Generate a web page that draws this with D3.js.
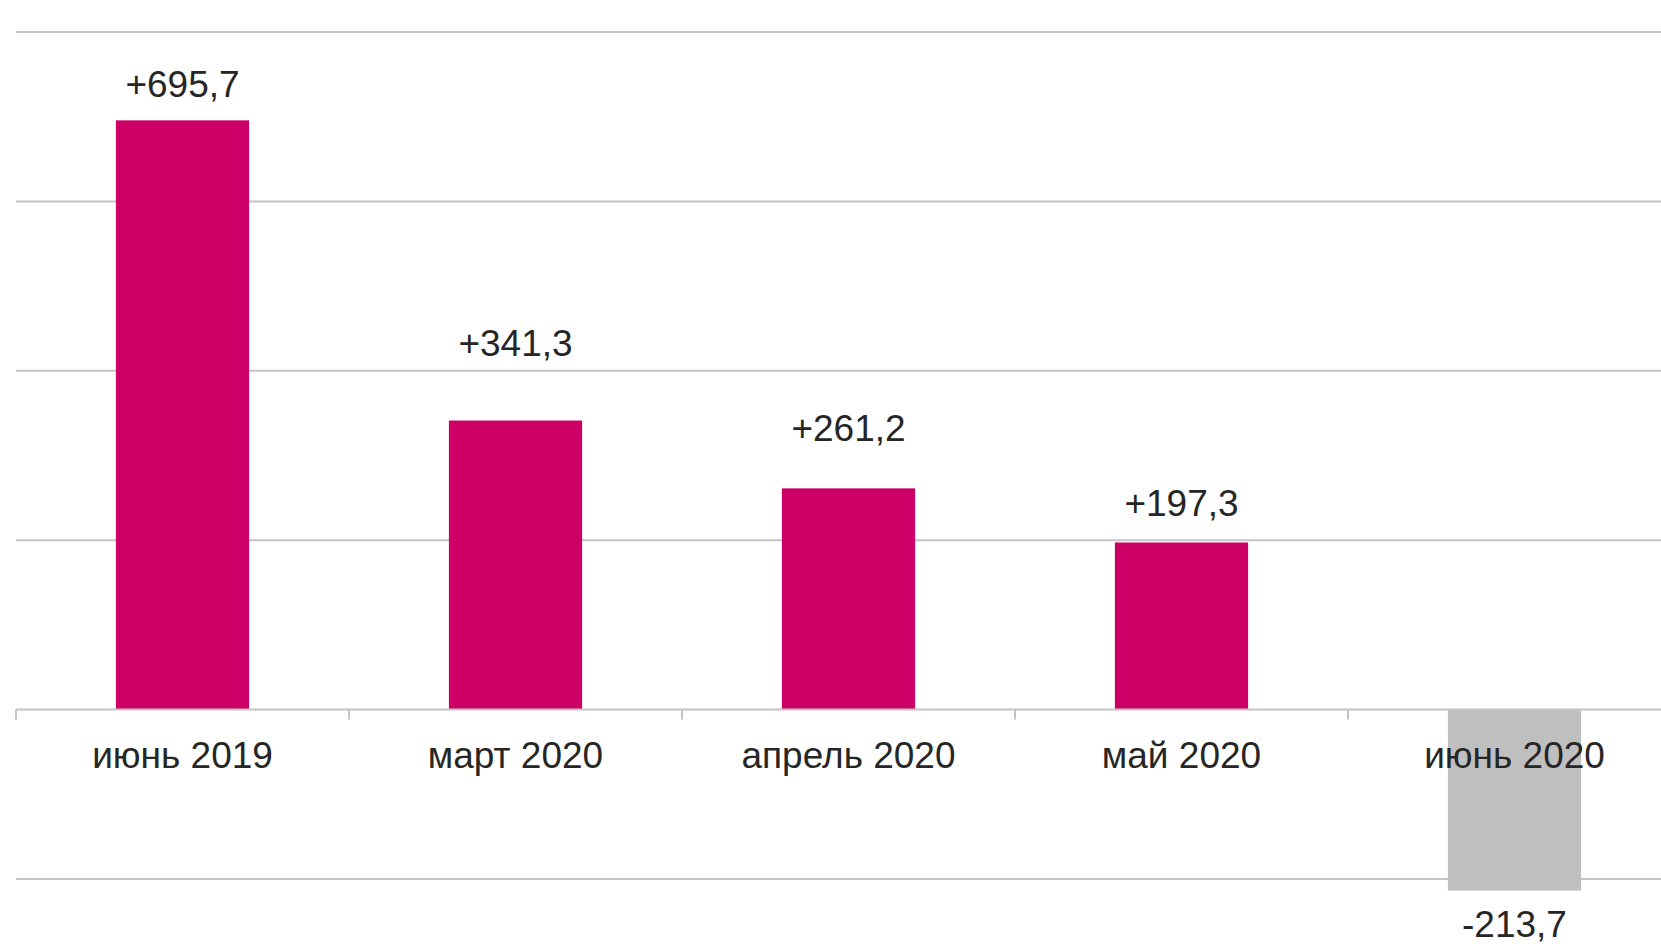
<!DOCTYPE html>
<html><head><meta charset="utf-8">
<script src="https://cdn.jsdelivr.net/npm/d3@7"></script>
<style>html,body{margin:0;padding:0;background:#fff;overflow:hidden}</style>
</head><body>
<svg id="c" width="1661" height="947"></svg>
<script>
const categories = ["июнь 2019","март 2020","апрель 2020","май 2020","июнь 2020"];
const values = [695.7, 341.3, 261.2, 197.3, -213.7];
const valueLabels = ["+695,7","+341,3","+261,2","+197,3","-213,7"];
const gridTicks = [-200, 200, 400, 600, 800];

const svg = d3.select("#c");
const x = d3.scaleBand().domain(categories).range([16, 1681]).paddingInner(0).paddingOuter(0);
const y = d3.scaleLinear().domain([-200, 800]).range([879, 32]);
const barW = x.bandwidth() * 0.4;
const font = "'Liberation Sans', Arial, sans-serif";
// label distances from bar ends (layout, as placed in the original)
const labelGap = [23, 65, 47, 26, 46];

svg.append("g").selectAll("line").data(gridTicks).join("line")
  .attr("x1", 16).attr("x2", 1661)
  .attr("y1", d => y(d)).attr("y2", d => y(d))
  .attr("stroke", "#c4c4c4").attr("stroke-width", 2);

svg.append("g").selectAll("rect").data(values).join("rect")
  .attr("x", (d, i) => x(categories[i]) + (x.bandwidth() - barW) / 2)
  .attr("width", barW)
  .attr("y", d => d >= 0 ? y(d) : y(0))
  .attr("height", d => Math.abs(y(d) - y(0)))
  .attr("fill", d => d >= 0 ? "#cc0066" : "#bfbfbf");

svg.append("line").attr("x1", 16).attr("x2", 1661).attr("y1", y(0)).attr("y2", y(0))
  .attr("stroke", "#c4c4c4").attr("stroke-width", 2);
const bounds = categories.map(c => x(c)).concat([x(categories[categories.length-1]) + x.bandwidth()]);
svg.append("g").selectAll("line").data(bounds).join("line")
  .attr("x1", d => d).attr("x2", d => d)
  .attr("y1", y(0)).attr("y2", y(0) + 10)
  .attr("stroke", "#c4c4c4").attr("stroke-width", 2);

svg.append("g").selectAll("text").data(categories).join("text")
  .attr("x", d => x(d) + x.bandwidth() / 2)
  .attr("y", y(0) + 58)
  .attr("text-anchor", "middle")
  .attr("font-family", font).attr("font-size", 37).attr("fill", "#262626")
  .text(d => d);

svg.append("g").selectAll("text").data(values).join("text")
  .attr("x", (d, i) => x(categories[i]) + x.bandwidth() / 2)
  .attr("y", (d, i) => d >= 0 ? y(d) - labelGap[i] : y(d) + labelGap[i])
  .attr("text-anchor", "middle")
  .attr("font-family", font).attr("font-size", 37).attr("fill", "#262626")
  .text((d, i) => valueLabels[i]);
</script>
</body></html>
